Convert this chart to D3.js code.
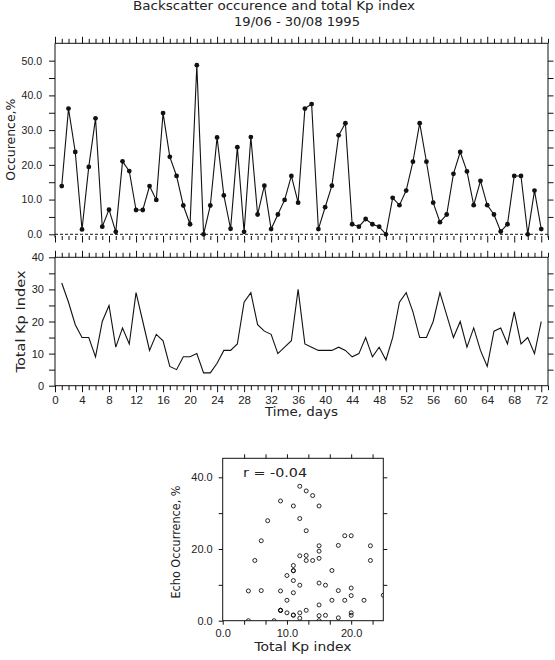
<!DOCTYPE html>
<html>
<head>
<meta charset="UTF-8">
<title>Backscatter occurence and total Kp index</title>
<script src="https://d3js.org/d3.v7.min.js"></script>
<style>
  body { margin: 0; background: #fff; }
  svg { display: block; font-family: "DejaVu Sans", sans-serif; }
  .tick line, .spine { stroke: #111; stroke-width: 1; }
  .tick text { fill: #222; }
  .lbl { fill: #222; }
</style>
</head>
<body>
<svg></svg>
<script>
// daily values, 19/06 - 30/08 1995
const days = d3.range(1, 73);
const occurrence = [13.9, 36.2, 23.7, 1.4, 19.4, 33.4, 2.2, 7.1, 0.7, 21.0,
  18.2, 7.0, 7.0, 13.9, 9.9, 34.9, 22.3, 16.8, 8.3, 2.9,
  48.7, 0, 8.3, 27.9, 11.2, 1.6, 25.1, 0.7, 28.0, 5.7,
  14.0, 1.5, 5.7, 9.9, 16.8, 9.1, 36.2, 37.5, 1.5, 7.8,
  14.0, 28.5, 32.0, 2.9, 2.2, 4.4, 2.9, 2.2, 0, 10.5,
  8.4, 12.6, 20.9, 32.0, 20.9, 9.1, 3.5, 5.7, 17.4, 23.7,
  18.1, 8.4, 15.4, 8.4, 5.7, 0.8, 2.9, 16.8, 16.8, 0,
  12.6, 1.5];
const kpTotal = [32, 26, 19, 15, 15, 9, 20, 25, 12, 18,
  13, 29, 20, 11, 16, 14, 6, 5, 9, 9,
  10, 4, 4, 7, 11, 11, 13, 26, 29, 19,
  17, 16, 10, 12, 14, 30, 13, 12, 11, 11,
  11, 12, 11, 9, 10, 15, 9, 12, 8, 15,
  26, 29, 23, 15, 15, 20, 29, 22, 15, 20,
  12, 18, 11, 6, 17, 18, 13, 23, 13, 15,
  10, 20];
const dayTicks = d3.range(0, 74);
const occTicks = d3.range(0, 55, 5);
const kpTicks = d3.range(0, 41, 5);
const scKpTicks = [0, 10 / 3, 20 / 3, 10, 40 / 3, 50 / 3, 20, 70 / 3];
const scOccTicks = [0, 10, 20, 30, 40];
const rText = "r = -0.04";

const svg = d3.select("svg").attr("width", 555).attr("height", 660);

const x = d3.scaleLinear([0, 73], [55, 548]);
const yOcc = d3.scaleLinear([0, 55], [234.3, 43.3]);
const yKp = d3.scaleLinear([0, 40], [385.7, 257.3]);
const xSc = d3.scaleLinear([0, 25], [222.7, 383.3]);
const ySc = d3.scaleLinear([0, 45.3], [620.7, 458.3]);

function axis(gen, tx, ty, size) {
  const g = svg.append("g").attr("transform", `translate(${tx},${ty})`)
    .call(gen.tickSizeOuter(0).tickSize(size));
  g.select(".domain").remove();
  return g;
}
const noText = () => "";

// ---------- top panel: occurrence ----------
axis(d3.axisTop(x).tickValues(dayTicks).tickFormat(noText), 0, 43.3, 4.5)
  .selectAll(".tick line").attr("y2", d => d % 4 === 0 ? -6.5 : -4.5);
axis(d3.axisBottom(x).tickValues(dayTicks).tickFormat(noText), 0, 236, 4)
  .selectAll(".tick line").attr("y2", d => d % 4 === 0 ? 6.5 : 4);
axis(d3.axisLeft(yOcc).tickValues(occTicks)
    .tickFormat(d => d % 10 === 0 ? d3.format(".1f")(d) : "").tickPadding(7), 55, 0, 6)
  .selectAll("text").attr("font-size", 10.5);
axis(d3.axisLeft(yOcc).tickValues(occTicks.slice(1)).tickFormat(noText), 548, 0, -5.5);

svg.append("path").attr("class", "spine").attr("fill", "none")
  .attr("d", `M55,237.5V43.3H548V237.5`);
svg.append("line")
  .attr("x1", x(0)).attr("x2", x(73))
  .attr("y1", yOcc(0)).attr("y2", yOcc(0))
  .attr("stroke", "#111").attr("stroke-dasharray", "3,2");

svg.append("path")
  .datum(days)
  .attr("fill", "none").attr("stroke", "#111").attr("stroke-width", 1.1)
  .attr("d", d3.line().x(d => x(d)).y((d, i) => yOcc(occurrence[i])));
svg.append("g").selectAll("circle")
  .data(days)
  .join("circle")
  .attr("cx", d => x(d))
  .attr("cy", (d, i) => yOcc(occurrence[i]))
  .attr("r", 2.4)
  .attr("fill", "#111");

svg.append("text").attr("class", "lbl")
  .attr("transform", `translate(11,${(43.3 + 236) / 2}) rotate(-90)`)
  .attr("text-anchor", "middle").attr("dy", "0.35em")
  .attr("font-size", 11.5).attr("textLength", 82).attr("lengthAdjust", "spacingAndGlyphs")
  .text("Occurence,%");

// ---------- middle panel: Kp ----------
axis(d3.axisTop(x).tickValues(dayTicks).tickFormat(noText), 0, 257.3, 4.5)
  .selectAll(".tick line").attr("y2", d => d % 4 === 0 ? -6.5 : -4.5);
const gb = axis(d3.axisBottom(x).tickValues(dayTicks)
    .tickFormat(d => d % 4 === 0 ? d : ""), 0, 385.7, 4.5);
gb.selectAll(".tick line").attr("y2", d => d % 4 === 0 ? 6.5 : 4.5);
gb.selectAll("text").attr("font-size", 11.5).attr("y", 18.3).attr("dy", 0);
axis(d3.axisLeft(yKp).tickValues(kpTicks)
    .tickFormat(d => d % 10 === 0 ? d : "").tickPadding(5), 55, 0, 6)
  .selectAll("text").attr("font-size", 11);
axis(d3.axisLeft(yKp).tickValues(kpTicks.slice(1, -1)).tickFormat(noText), 548, 0, -5.5);

svg.append("rect").attr("class", "spine").attr("fill", "none")
  .attr("x", 55).attr("y", 257.3).attr("width", 493).attr("height", 385.7 - 257.3);

svg.append("path")
  .datum(days)
  .attr("fill", "none").attr("stroke", "#111").attr("stroke-width", 1.1)
  .attr("d", d3.line().x(d => x(d)).y((d, i) => yKp(kpTotal[i])));

svg.append("text").attr("class", "lbl")
  .attr("transform", `translate(21,${(257.3 + 385.7) / 2}) rotate(-90)`)
  .attr("text-anchor", "middle").attr("dy", "0.35em")
  .attr("font-size", 12).attr("textLength", 102).attr("lengthAdjust", "spacingAndGlyphs")
  .text("Total Kp Index");
svg.append("text").attr("class", "lbl")
  .attr("x", 301.5).attr("y", 416).attr("text-anchor", "middle")
  .attr("font-size", 12).attr("textLength", 73).attr("lengthAdjust", "spacingAndGlyphs")
  .text("Time, days");

// ---------- titles ----------
svg.append("text").attr("class", "lbl")
  .attr("x", 274).attr("y", 10).attr("text-anchor", "middle")
  .attr("font-size", 11.5).attr("textLength", 282).attr("lengthAdjust", "spacingAndGlyphs")
  .text("Backscatter occurence and total Kp index");
svg.append("text").attr("class", "lbl")
  .attr("x", 297).attr("y", 25.5).attr("text-anchor", "middle")
  .attr("font-size", 12.5).attr("textLength", 126).attr("lengthAdjust", "spacingAndGlyphs")
  .text("19/06 - 30/08 1995");

// ---------- scatter: occurrence vs Kp ----------
svg.append("defs").append("clipPath").attr("id", "scClip")
  .append("rect").attr("x", 222.7).attr("y", 458.3)
  .attr("width", 383.3 - 222.7).attr("height", 620.7 - 458.3);

axis(d3.axisTop(xSc).tickValues(scKpTicks.slice(1)).tickFormat(noText), 0, 458.3, 4);
axis(d3.axisBottom(xSc).tickValues(scKpTicks)
    .tickFormat(d => [0, 10, 20].includes(Math.round(d * 1000) / 1000) ? d3.format(".1f")(d) : "")
    .tickPadding(5), 0, 620.7, 4)
  .selectAll("text").attr("font-size", 11);
axis(d3.axisLeft(ySc).tickValues(scOccTicks)
    .tickFormat(d => d % 20 === 0 ? d3.format(".1f")(d) : "").tickPadding(6), 222.7, 0, 4)
  .selectAll("text").attr("font-size", 11);
axis(d3.axisRight(ySc).tickValues(scOccTicks.slice(1)).tickFormat(noText), 383.3, 0, 4);

svg.append("rect").attr("class", "spine").attr("fill", "none")
  .attr("x", 222.7).attr("y", 458.3)
  .attr("width", 383.3 - 222.7).attr("height", 620.7 - 458.3);

svg.append("g").attr("clip-path", "url(#scClip)")
  .selectAll("circle")
  .data(days)
  .join("circle")
  .attr("cx", (d, i) => xSc(kpTotal[i]))
  .attr("cy", (d, i) => ySc(occurrence[i]))
  .attr("r", 2)
  .attr("fill", "none").attr("stroke", "#111").attr("stroke-width", 0.9);

svg.append("text").attr("class", "lbl")
  .attr("x", 243).attr("y", 477).attr("font-size", 12)
  .attr("textLength", 64).attr("lengthAdjust", "spacingAndGlyphs")
  .text(rText);
svg.append("text").attr("class", "lbl")
  .attr("x", 303).attr("y", 651).attr("text-anchor", "middle")
  .attr("font-size", 12).attr("textLength", 97).attr("lengthAdjust", "spacingAndGlyphs")
  .text("Total Kp index");
svg.append("text").attr("class", "lbl")
  .attr("transform", `translate(176,542) rotate(-90)`)
  .attr("text-anchor", "middle").attr("dy", "0.35em")
  .attr("font-size", 12).attr("textLength", 113).attr("lengthAdjust", "spacingAndGlyphs")
  .text("Echo Occurrence, %");
</script>
</body>
</html>
